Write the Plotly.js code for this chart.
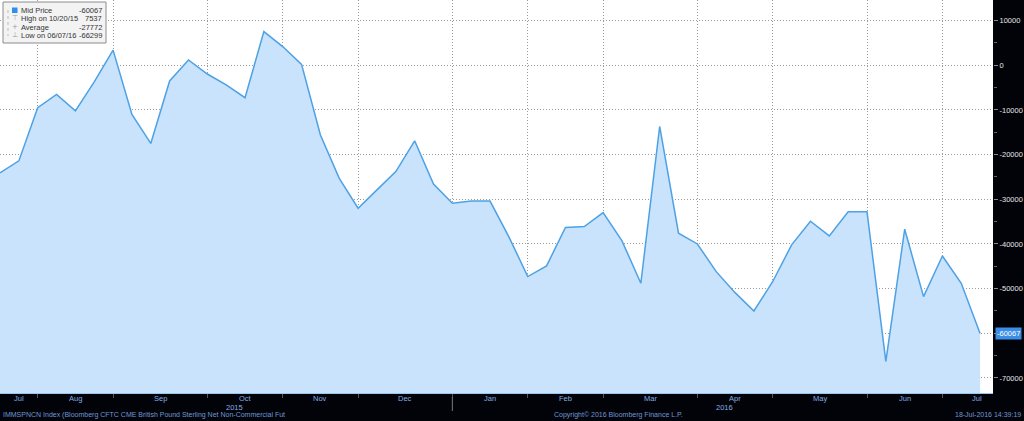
<!DOCTYPE html>
<html>
<head>
<meta charset="utf-8">
<script src="https://cdn.plot.ly/plotly-3.0.1.min.js"></script>
<style>
  html, body { margin: 0; padding: 0; background: #020308; }
  #chart { width: 1024px; height: 421px; }
</style>
</head>
<body>
<div id="chart"></div>
<script>
// ---- data (weekly CFTC net non-commercial positions, GBP) ----
const dates = [
  '2015-07-14','2015-07-21','2015-07-28','2015-08-04','2015-08-11','2015-08-18','2015-08-25',
  '2015-09-01','2015-09-08','2015-09-15','2015-09-22','2015-09-29','2015-10-06','2015-10-13',
  '2015-10-20','2015-10-27','2015-11-03','2015-11-10','2015-11-17','2015-11-24','2015-12-01',
  '2015-12-08','2015-12-15','2015-12-22','2015-12-29','2016-01-05','2016-01-12','2016-01-19',
  '2016-01-26','2016-02-02','2016-02-09','2016-02-16','2016-02-23','2016-03-01','2016-03-08',
  '2016-03-15','2016-03-22','2016-03-29','2016-04-05','2016-04-12','2016-04-19','2016-04-26',
  '2016-05-03','2016-05-10','2016-05-17','2016-05-24','2016-05-31','2016-06-07','2016-06-14',
  '2016-06-21','2016-06-28','2016-07-05','2016-07-12'
];
const midPrice = [
  -24100, -21400, -9500, -6500, -10200, -3700, 3400,
  -11000, -17500, -3500, 1200, -1950, -4400, -7250,
  7537, 4200, 200, -15600, -25300, -32000, -27900,
  -23800, -16900, -26600, -30900, -30400, -30400, -38400,
  -47300, -44900, -36300, -36100, -33000, -39300, -48800,
  -13700, -37600, -40000, -46200, -50900, -55000, -48400,
  -40200, -34900, -38200, -32800, -32800, -66299, -36700,
  -51800, -42700, -48800, -60067
];
const gridDates = ['2015-07-28','2015-08-25','2015-09-29','2015-10-27','2015-11-24','2015-12-29',
  '2016-01-26','2016-02-23','2016-03-29','2016-04-26','2016-05-31','2016-06-28'];
const monthLabels = ['Jul','Aug','Sep','Oct','Nov','Dec','Jan','Feb','Mar','Apr','May','Jun','Jul'];
const monthLabelDates = ['2015-07-21','2015-08-11','2015-09-11 12:00','2015-10-13','2015-11-10',
  '2015-12-11 12:00','2016-01-12','2016-02-09','2016-03-11 12:00','2016-04-12','2016-05-13 12:00',
  '2016-06-14','2016-07-11'];
const yearLabels = ['2015','2016'];
const yearLabelDates = ['2015-10-09','2016-04-08'];
const yearSeparatorDate = '2015-12-29';
const yTickVals = [-70000,-60000,-50000,-40000,-30000,-20000,-10000,0,10000];
const yTickText = ['-70000','','-50000','-40000','-30000','-20000','-10000','0','10000'];
const legendLabels = ['Mid Price','High on 10/20/15','Average','Low on 06/07/16'];
const legendValues = ['-60067','7537','-27772','-66299'];
const footerLeft = 'IMMSPNCN Index (Bloomberg CFTC CME British Pound Sterling Net Non-Commercial Fut';
const footerMid = 'Copyright\u00A9 2016 Bloomberg Finance L.P.';
const footerRight = '18-Jul-2016 14:39:19';

// ---- layout constants ----
const W = 1024, H = 421;
const M = {l: 0, r: 31, t: 0, b: 28};
const PW = W - M.l - M.r, PH = H - M.t - M.b;
const Y_RANGE = [-73370, 14620];
const X_RANGE = ['2015-07-14', '2016-07-16 19:00'];
const px = x => x / PW;
const py = y => 1 - y / PH;

const FONT = 'Liberation Sans, Arial, sans-serif';
const BLUE_TXT = '#86aee6';

const baseline = {
  x: dates, y: dates.map(() => Y_RANGE[0]),
  type: 'scatter', mode: 'lines', line: {width: 0, color: 'rgba(0,0,0,0)'},
  hoverinfo: 'skip', showlegend: false
};
const series = {
  x: dates, y: midPrice, type: 'scatter', mode: 'lines',
  fill: 'tonexty', fillcolor: '#c8e3fb',
  line: {color: '#4ea1e4', width: 1.5}, name: 'Mid Price', showlegend: false
};

const annotations = [];
monthLabels.forEach((m, i) => annotations.push({
  x: monthLabelDates[i], xref: 'x', y: 0, yref: 'paper', yanchor: 'middle', yshift: -5,
  text: m, showarrow: false, font: {family: FONT, size: 7.5, color: BLUE_TXT}
}));
yearLabels.forEach((t, i) => annotations.push({
  x: yearLabelDates[i], xref: 'x', y: 0, yref: 'paper', yanchor: 'middle', yshift: -14.5,
  text: t, showarrow: false, font: {family: FONT, size: 7.5, color: BLUE_TXT}
}));
annotations.push({x: px(1), xref: 'paper', xanchor: 'left', y: 0, yref: 'paper', yanchor: 'middle', yshift: -21.5,
  text: footerLeft, showarrow: false, font: {family: FONT, size: 7, color: '#6f98d6'}});
annotations.push({x: px(552), xref: 'paper', xanchor: 'left', y: 0, yref: 'paper', yanchor: 'middle', yshift: -21.5,
  text: footerMid, showarrow: false, font: {family: FONT, size: 7, color: '#6f98d6'}});
annotations.push({x: px(1023), xref: 'paper', xanchor: 'right', y: 0, yref: 'paper', yanchor: 'middle', yshift: -21.5,
  text: footerRight, showarrow: false, font: {family: FONT, size: 7, color: '#6f98d6'}});
// last value marker on right axis
annotations.push({x: 1, xref: 'paper', xanchor: 'left', xshift: 2, y: midPrice[midPrice.length - 1], yref: 'y',
  yanchor: 'middle', text: String(midPrice[midPrice.length - 1]), showarrow: false,
  bgcolor: '#3a8ee6', borderpad: 1, font: {family: FONT, size: 7.5, color: '#ffffff'}});
// legend box text
const legendRowsY = [10, 18.5, 27, 35.5];
const legendIcons = ['', '\u22A4', '+', '\u22A5'];
legendLabels.forEach((t, i) => {
  annotations.push({x: px(20), xref: 'paper', xanchor: 'left', y: py(legendRowsY[i]), yref: 'paper', yanchor: 'middle',
    text: t, showarrow: false, borderpad: 0, font: {family: FONT, size: 7.5, color: '#333333'}});
  annotations.push({x: px(103), xref: 'paper', xanchor: 'right', y: py(legendRowsY[i]), yref: 'paper', yanchor: 'middle',
    text: legendValues[i], showarrow: false, borderpad: 0, font: {family: FONT, size: 7.5, color: '#333333'}});
  if (legendIcons[i]) annotations.push({x: px(15), xref: 'paper', xanchor: 'center', y: py(legendRowsY[i]), yref: 'paper', yanchor: 'middle',
    text: legendIcons[i], showarrow: false, borderpad: 0, font: {family: 'DejaVu Sans, sans-serif', size: 7, color: '#999999'}});
});

const shapes = [
  {type: 'rect', xref: 'paper', yref: 'paper', x0: px(3), x1: px(106), y0: py(2), y1: py(43),
   fillcolor: '#f3f3f3', line: {color: '#8c8c8c', width: 1}, layer: 'above'},
  {type: 'rect', xref: 'paper', yref: 'paper', x0: px(12), x1: px(17.5), y0: py(7.5), y1: py(13),
   fillcolor: '#2f8fe8', line: {width: 0}, layer: 'above'},
  {type: 'line', xref: 'paper', yref: 'paper', x0: px(8), x1: px(8), y0: py(10), y1: py(36),
   line: {color: '#bbbbbb', width: 1, dash: 'dot'}, layer: 'above'},
  {type: 'line', xref: 'x', yref: 'paper', x0: yearSeparatorDate, x1: yearSeparatorDate, y0: py(397), y1: py(411),
   line: {color: '#7a7a7a', width: 1}}
];

const layout = {
  width: W, height: H, margin: {l: M.l, r: M.r, t: M.t, b: M.b, pad: 0},
  paper_bgcolor: '#020308', plot_bgcolor: '#ffffff', showlegend: false,
  xaxis: {
    type: 'date', range: X_RANGE, tickmode: 'array', tickvals: gridDates, showticklabels: false,
    showgrid: true, gridcolor: '#9a9a9a', griddash: '1px,2px', gridwidth: 1,
    ticks: 'outside', ticklen: 4, tickcolor: '#555555',
    showline: true, linecolor: '#9cc4ee', linewidth: 1, zeroline: false, fixedrange: true
  },
  yaxis: {
    side: 'right', range: Y_RANGE, tickmode: 'array', tickvals: yTickVals, ticktext: yTickText,
    showgrid: true, gridcolor: '#9a9a9a', griddash: '1px,2px', gridwidth: 1, zeroline: false,
    ticks: 'outside', ticklen: 4, tickcolor: '#8a8a8a',
    tickfont: {family: FONT, size: 7.5, color: '#e6e6e6'},
    minor: {tickmode: 'linear', tick0: 5000, dtick: 10000, ticks: 'outside', ticklen: 3, tickcolor: '#666666', showgrid: false},
    showline: false, fixedrange: true
  },
  annotations: annotations, shapes: shapes
};

Plotly.newPlot('chart', [baseline, series], layout, {displayModeBar: false, staticPlot: true});
</script>
</body>
</html>
